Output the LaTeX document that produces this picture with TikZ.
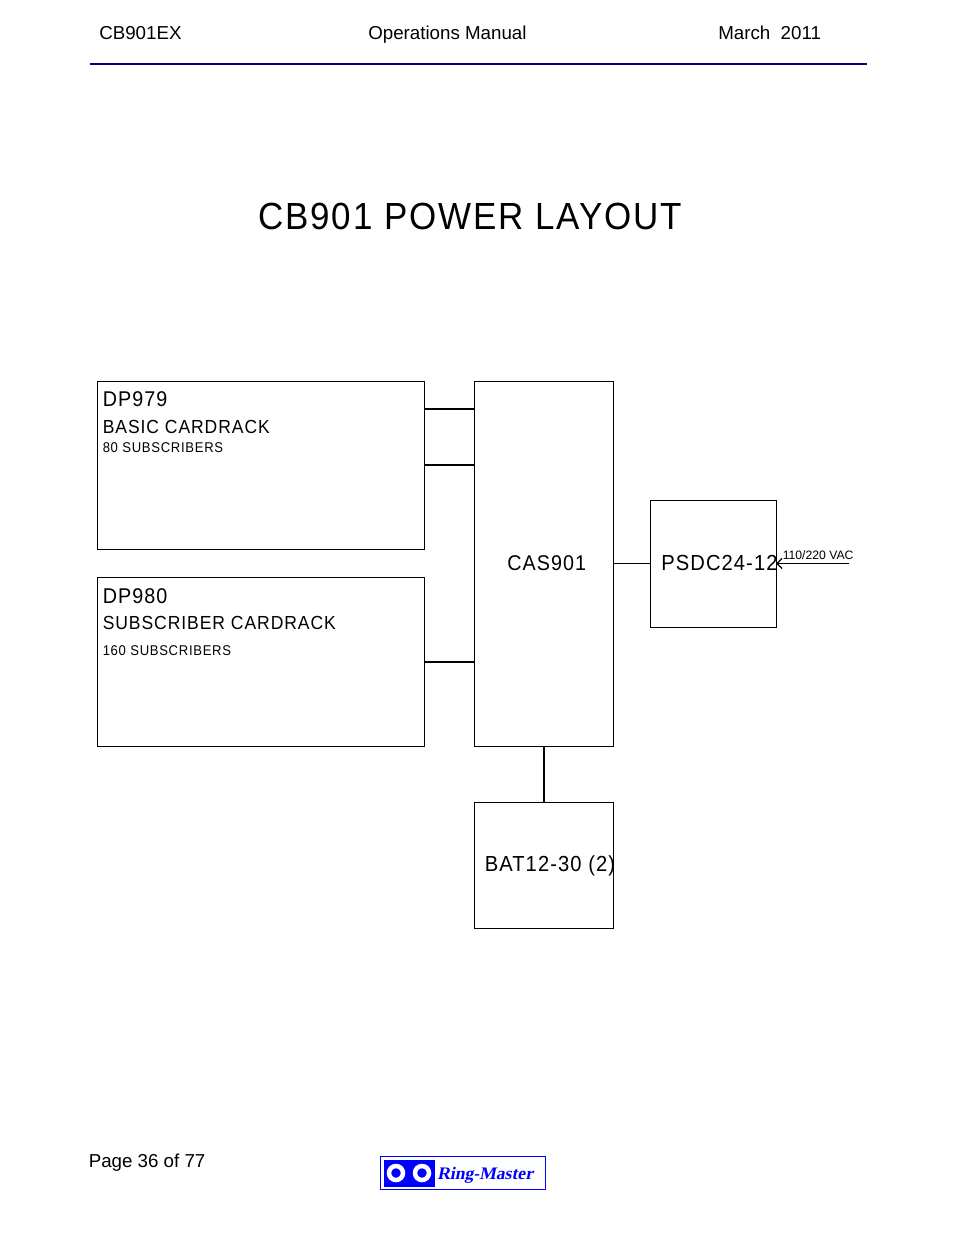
\documentclass[tikz,border=0pt]{standalone}
\usepackage{fontspec}
\setmainfont{Liberation Sans}
\newfontfamily\tracked[LetterSpace=5,FakeStretch=0.925]{Liberation Sans}
\newfontfamily\logofont[FakeSlant=0.2]{Liberation Serif}
\definecolor{rule}{RGB}{0,0,128}
\definecolor{logoblue}{RGB}{0,0,255}
\begin{document}
\begin{tikzpicture}[x=0.75pt,y=-0.75pt,
  txt/.style={inner sep=0pt,anchor=base west,text=black},
  hdr/.style={txt,font=\fontsize{14.05}{16}\selectfont},
  box/.style={draw=black,line width=0.6pt,fill=white,inner sep=0pt,anchor=north west},
  wire/.style={draw=black,line width=0.75pt},
  thick wire/.style={draw=black,line width=1.3pt},
  big/.style={txt,font=\tracked\fontsize{16}{18}\selectfont},
  bigger/.style={txt,font=\tracked\fontsize{16.35}{18}\selectfont},
  mid/.style={txt,font=\tracked\fontsize{14.2}{16}\selectfont},
  small/.style={txt,font=\tracked\fontsize{10.6}{12}\selectfont},
]
\useasboundingbox (0,0) rectangle (954,1235);
\node[hdr] (h1) at (99,39.3) {CB901EX};
\node[hdr] (h2) at (368,39.3) {Operations Manual};
\node[hdr] (h3) at (718,39.3) {March\ \ 2011};
\draw[draw=rule,line width=1.5pt] (90,64) -- (867,64);
\node[txt,font=\tracked\fontsize{28.35}{32}\selectfont] (title) at (258,229.5) {CB901 POWER LAYOUT};

\node[box,minimum width=327pt*0.75,minimum height=168pt*0.75] (dp979) at (96.5,380.5) {};
\node[box,minimum width=327pt*0.75,minimum height=169pt*0.75] (dp980) at (96.5,576.5) {};
\node[box,minimum width=139pt*0.75,minimum height=365pt*0.75] (cas) at (473.5,380.5) {};
\node[box,minimum width=126pt*0.75,minimum height=127pt*0.75] (psdc) at (649.5,499.5) {};
\node[box,minimum width=139pt*0.75,minimum height=126pt*0.75] (bat) at (473.5,801.5) {};
\coordinate (vac) at (849,563.5);
\coordinate (casb) at (544,746);
\coordinate (batt) at (544,802);

\draw[thick wire] (dp979.east |- 0,409) -- (cas.west |- 0,409);
\draw[thick wire] (dp979.east |- 0,465) -- (cas.west |- 0,465);
\draw[thick wire] (dp980.east |- 0,662) -- (cas.west |- 0,662);
\draw[wire] (cas.east |- 0,563.5) -- (psdc.west |- 0,563.5);
\draw[thick wire] (casb) -- (batt);

\node[big] (t1) at (102.5,406) {DP979};
\node[mid] (t2) at (102.5,433) {BASIC CARDRACK};
\node[small] (t3) at (102.5,452) {80 SUBSCRIBERS};
\node[big] (t4) at (102.5,603) {DP980};
\node[mid] (t5) at (102.5,629) {SUBSCRIBER CARDRACK};
\node[small] (t6) at (102.5,655) {160 SUBSCRIBERS};
\node[big] (t7) at (507,570) {CAS901};
\node[bigger] (t8) at (661,570) {PSDC24-12};
\node[bigger] (t9) at (484.5,871) {BAT12-30 (2)};
\node[txt,font=\fontsize{9.15}{11}\selectfont] (t10) at (782.5,559) {110/220 VAC};
\draw[wire] (vac) -- (psdc.east |- vac);
\draw[wire,line width=0.9pt] (782,558.5) -- (777,563.5) -- (782,568.5);

\node[hdr] (pg) at (88.5,1167) {Page 36 of 77};
\node[draw=logoblue,line width=0.75pt,fill=white,inner sep=0pt,anchor=north west,minimum width=165pt*0.75,minimum height=33pt*0.75] (logo) at (380,1156) {};
\node[fill=logoblue,inner sep=0pt,anchor=north west,minimum width=51pt*0.75,minimum height=27pt*0.75] (mark) at (384,1159.5) {};
\draw[draw=white,line width=4.5pt*0.75,fill=logoblue] (396,1173) circle[radius=7];
\draw[draw=white,line width=4.5pt*0.75,fill=logoblue] (422,1173) circle[radius=7];
\node[txt,text=logoblue,font=\logofont\bfseries\fontsize{13.2}{16}\selectfont] (brand) at (437,1179) {Ring-Master};
\end{tikzpicture}
\end{document}
